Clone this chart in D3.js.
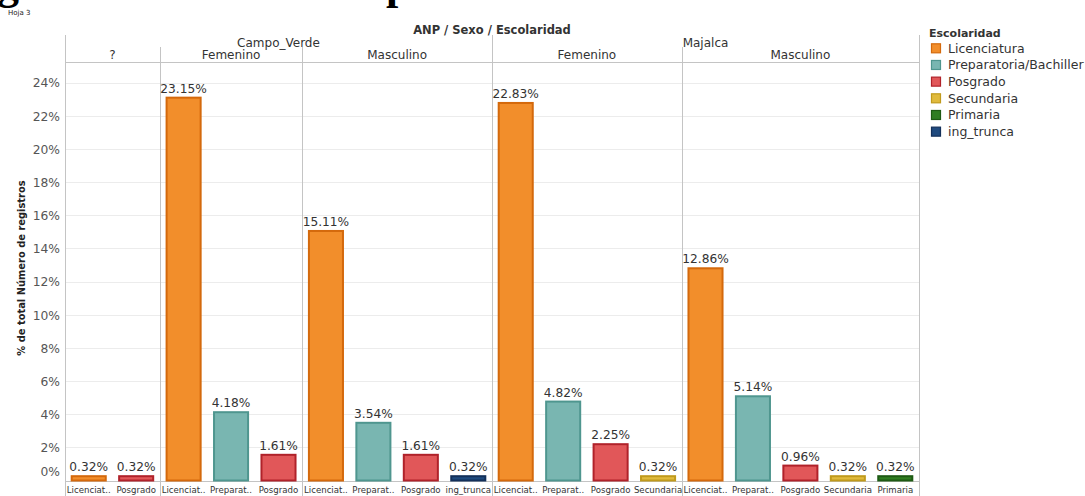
<!DOCTYPE html>
<html>
<head>
<meta charset="utf-8">
<script src="https://cdn.jsdelivr.net/npm/d3@7"></script>
<style>
  html, body { margin: 0; padding: 0; background: #fff; }
  svg { display: block; }
  text { font-family: "DejaVu Sans", Verdana, sans-serif; }
</style>
</head>
<body>
<svg id="chart" width="1085" height="496"></svg>
<script>
// Panels: ANP / Sexo, each with its own escolaridad bars (% of total records)
const panelAnp = ["Campo_Verde", "Campo_Verde", "Campo_Verde", "Majalca", "Majalca"];
const panelSexo = ["?", "Femenino", "Masculino", "Femenino", "Masculino"];
const panelCategories = [
  ["Licenciatura", "Posgrado"],
  ["Licenciatura", "Preparatoria/Bachiller", "Posgrado"],
  ["Licenciatura", "Preparatoria/Bachiller", "Posgrado", "ing_trunca"],
  ["Licenciatura", "Preparatoria/Bachiller", "Posgrado", "Secundaria"],
  ["Licenciatura", "Preparatoria/Bachiller", "Posgrado", "Secundaria", "Primaria"]
];
const panelValues = [
  [0.32, 0.32],
  [23.15, 4.18, 1.61],
  [15.11, 3.54, 1.61, 0.32],
  [22.83, 4.82, 2.25, 0.32],
  [12.86, 5.14, 0.96, 0.32, 0.32]
];
const escolaridad = ["Licenciatura", "Preparatoria/Bachiller", "Posgrado", "Secundaria", "Primaria", "ing_trunca"];
const fillColors = ["#f28e2b", "#79b6b1", "#e15759", "#e0ba3c", "#2f7d22", "#1f4a7e"];
const strokeColors = ["#d4690c", "#4f968f", "#b0222a", "#c09a1c", "#1e5a14", "#13305a"];
const yTicks = [0, 2, 4, 6, 8, 10, 12, 14, 16, 18, 20, 22, 24];

const svg = d3.select("#chart");
const left = 65, right = 919, headerTop = 35, subTop = 47, plotTop = 62, baseY = 480.5;
const lineColor = "#c4c4c4";

// Flatten bars in display order
const bars = [];
panelCategories.forEach((cats, p) => {
  cats.forEach((c, i) => bars.push({ key: p + "|" + c, panel: p, cat: c, value: panelValues[p][i] }));
});

const x = d3.scaleBand().domain(bars.map(d => d.key)).range([left, right])
  .paddingInner(0.24).paddingOuter(0.12);
const step = x.step();
const y = d3.scaleLinear().domain([0, 25.24]).range([baseY, plotTop]);
const color = d3.scaleOrdinal().domain(escolaridad).range(fillColors);
const strokeColor = d3.scaleOrdinal().domain(escolaridad).range(strokeColors);

// Panel extents in pixels
const panels = panelSexo.map((s, p) => {
  const keys = bars.filter(b => b.panel === p).map(b => b.key);
  const x0 = x(keys[0]) - step * x.paddingInner() / 2;
  const x1 = x(keys[keys.length - 1]) + x.bandwidth() + step * x.paddingInner() / 2;
  return { p, anp: panelAnp[p], sexo: s, x0, x1 };
});
panels[0].x0 = left;
panels[panels.length - 1].x1 = right;

// Document title fragment (runs off the top edge) and sheet name
svg.append("text").attr("x", -3).attr("y", -1)
  .style("font-family", "'Liberation Serif', serif").style("font-weight", "bold")
  .style("font-size", "44px").attr("fill", "#000").text("g");
svg.append("text").attr("x", 386).attr("y", -1)
  .style("font-family", "'Liberation Serif', serif").style("font-weight", "bold")
  .style("font-size", "44px").attr("fill", "#000").text("p");
svg.append("text").attr("x", 8).attr("y", 15).style("font-size", "7px")
  .attr("fill", "#222").text("Hoja 3");

// Gridlines
svg.append("g").selectAll("line").data(yTicks.filter(t => t > 0)).join("line")
  .attr("x1", left).attr("x2", right)
  .attr("y1", d => Math.round(y(d)) + 0.5).attr("y2", d => Math.round(y(d)) + 0.5)
  .attr("stroke", "#ececec").attr("stroke-width", 1);

// Header titles
svg.append("text").attr("x", (left + right) / 2).attr("y", 34).attr("text-anchor", "middle")
  .style("font-size", "11.5px").style("font-weight", "bold").attr("fill", "#333")
  .text("ANP / Sexo / Escolaridad");

const anpGroups = d3.groups(panels, d => d.anp).map(([anp, ps]) => ({
  anp, x0: d3.min(ps, d => d.x0), x1: d3.max(ps, d => d.x1)
}));
svg.append("g").selectAll("text").data(anpGroups).join("text")
  .attr("x", d => (d.x0 + d.x1) / 2).attr("y", 46.5).attr("text-anchor", "middle")
  .style("font-size", "12px").attr("fill", "#333").text(d => d.anp);

svg.append("g").selectAll("text").data(panels).join("text")
  .attr("x", d => (d.x0 + d.x1) / 2).attr("y", 58.5).attr("text-anchor", "middle")
  .style("font-size", "12px").attr("fill", "#333").text(d => d.sexo);

// Header rule and axis baseline
svg.append("line").attr("x1", left).attr("x2", right).attr("y1", 62.5).attr("y2", 62.5)
  .attr("stroke", lineColor);
svg.append("line").attr("x1", left).attr("x2", right).attr("y1", 481.5).attr("y2", 481.5)
  .attr("stroke", lineColor);

// Panel separators
const anpEdges = [left, ...anpGroups.map(d => d.x1)];
svg.append("g").selectAll("line").data(anpEdges).join("line")
  .attr("x1", d => Math.round(d) + 0.5).attr("x2", d => Math.round(d) + 0.5)
  .attr("y1", headerTop).attr("y2", 496).attr("stroke", lineColor);
const innerEdges = panels.slice(0, -1).map(d => d.x1).filter(e => !anpEdges.some(a => Math.abs(a - e) < 1));
svg.append("g").selectAll("line").data(innerEdges).join("line")
  .attr("x1", d => Math.round(d) + 0.5).attr("x2", d => Math.round(d) + 0.5)
  .attr("y1", subTop).attr("y2", 496).attr("stroke", lineColor);

// Y axis
const yAxis = d3.axisLeft(y).tickValues(yTicks).tickFormat(d => d + "%").tickSize(0).tickPadding(0);
const ya = svg.append("g").attr("transform", `translate(${left - 5},0)`).call(yAxis);
ya.select(".domain").remove();
ya.selectAll("text").style("font-size", "12.3px").style("font-family", "'DejaVu Sans', sans-serif")
  .attr("fill", "#555").attr("dy", "0.35em")
  .attr("transform", d => d === 0 ? "translate(0,-9)" : null);

svg.append("text")
  .attr("transform", "translate(25,268) rotate(-90)")
  .attr("text-anchor", "middle")
  .style("font-family", "'DejaVu Sans Condensed', 'DejaVu Sans', sans-serif")
  .style("font-size", "11px").style("font-weight", "bold").attr("fill", "#222")
  .text("% de total Número de registros");

// Bars
svg.append("g").selectAll("rect").data(bars).join("rect")
  .attr("x", d => x(d.key) + 1)
  .attr("width", x.bandwidth() - 2)
  .attr("y", d => y(d.value) + 1)
  .attr("height", d => Math.max(0, baseY - y(d.value) - 1))
  .attr("fill", d => color(d.cat))
  .attr("stroke", d => strokeColor(d.cat))
  .attr("stroke-width", 2);

// Value labels
svg.append("g").selectAll("text").data(bars).join("text")
  .attr("x", d => x(d.key) + x.bandwidth() / 2)
  .attr("y", d => y(d.value) - 4)
  .attr("text-anchor", "middle")
  .style("font-size", "12.2px").attr("fill", "#333")
  .text(d => d.value.toFixed(2) + "%");

// Category labels, shortened when they overflow the slot
const catLabels = svg.append("g").selectAll("text").data(bars).join("text")
  .attr("x", d => x(d.key) + x.bandwidth() / 2)
  .attr("y", 492.5)
  .attr("text-anchor", "middle")
  .style("font-size", "8.6px").attr("fill", "#333")
  .text(d => d.cat);
catLabels.each(function (d) {
  const el = d3.select(this);
  if (this.getComputedTextLength() <= step + 4) return;
  let s = d.cat;
  while (s.length > 1) {
    s = s.slice(0, -1);
    el.text(s + "..");
    if (this.getComputedTextLength() <= step - 2) break;
  }
});

// Legend
const lg = svg.append("g").attr("transform", "translate(929,0)");
lg.append("text").attr("x", 0).attr("y", 37).style("font-size", "11px")
  .style("font-weight", "bold").attr("fill", "#333").text("Escolaridad");
const items = lg.selectAll("g.item").data(escolaridad).join("g")
  .attr("class", "item")
  .attr("transform", (d, i) => `translate(0,${48.3 + i * 16.67})`);
items.append("rect").attr("x", 2.5).attr("y", -4.5).attr("width", 9).attr("height", 9)
  .attr("fill", d => color(d)).attr("stroke", d => strokeColor(d)).attr("stroke-width", 1.2);
items.append("text").attr("x", 19).attr("y", 0).attr("dy", "0.35em")
  .style("font-size", "12.5px").attr("fill", "#333").text(d => d);
</script>
</body>
</html>
